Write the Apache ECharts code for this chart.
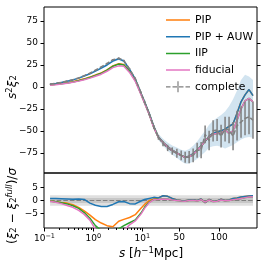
<!DOCTYPE html>
<html><head><meta charset="utf-8">
<script src="https://cdn.jsdelivr.net/npm/echarts@6/dist/echarts.min.js"></script>
<style>html,body{margin:0;padding:0;background:#fff}#c{width:266px;height:266px}</style>
</head><body><div id="c"></div>
<script>
// separation s [h^-1 Mpc]
const sVals = [0.13,0.17,0.22,0.29,0.38,0.5,0.65,0.85,1.1,1.45,1.9,2.5,3.3,4.2,5.5,7.2,9.4,
  12.5,17.5,22.5,27.5,32.5,37.5,42.5,47.5,52.5,57.5,62.5,67.5,72.5,77.5,82.5,87.5,92.5,97.5,102.5,107.5,112.5,117.5,122.5,127.5,132.5,137.5,142.5];
// top panel: s^2 xi_2
const pipTop = [2.3,3,3.8,4.8,6,7.5,9.2,11.2,13.5,16,19.5,24,26.5,25.5,18,8,-7.5,
  -17.5,-30.5,-45.5,-57,-63,-68,-72,-75,-78,-80,-79,-76,-72,-67,-62,-56,-53,-51,-50,-48,-45,-42,-30,-17,-9,-3,-10];
const auwTop = [3,4,5,6.5,8,10,12.5,15,18,21.5,25,29.5,32,29.5,20,9,-7,
  -17,-30,-45,-57,-63,-68,-72,-75,-78,-80,-79,-76,-72,-67,-62,-56,-53,-51,-50,-48,-45,-42,-30,-17,-9,-3,-10];
const iipTop = [2.2,2.9,3.6,4.5,5.7,7.1,8.8,10.7,13,15.5,19,23.5,26,25,17.5,7.5,-8,
  -18,-31,-46,-57.5,-63.5,-68.5,-72.5,-75.5,-78,-80.5,-79.5,-77,-72.5,-68,-61,-57,-54,-53,-53,-49,-53,-50,-38,-25,-16,-13,-17];
const fidTop = [2,2.6,3.3,4.2,5.3,6.6,8.2,10,12.2,14.5,17.8,22,24,23.5,16.5,6.5,-8.5,
  -18.5,-31.5,-46.5,-57.5,-63.5,-68.5,-72.5,-75.5,-78,-80.5,-79.5,-77,-72.5,-68,-61,-57,-54,-53,-53,-49,-53,-50,-38,-25,-16,-13,-17];
const compTop = [3.2,4.2,5.2,6.7,8.2,10.2,12.8,15.6,19,22.8,26.6,31,32.6,30,20.5,9.5,-6.5,
  -17,-30.5,-45.5,-57.5,-64.5,-69.5,-73,-75.5,-78,-80,-80,-78,-72,-72,-54,-61,-50,-49,-56,-48,-49,-56,-44,-40,-36,-34,-38];
const compErr = [0.3,0.3,0.3,0.4,0.4,0.5,0.5,0.6,0.6,0.7,0.8,0.9,1,1,1.1,1.2,1.3,
  1.5,1.8,2.2,2.6,3,3.6,4.2,5,5.6,6.3,7,7.8,8.5,9.3,10,11,12,12.5,13,14,15,16,17,18,19,20,21];
// PIP + AUW spread band (lower / upper edges)
const auwLo = [2.5,3.5,4.5,5.9,7.4,9.3,11.7,14.1,17,20.4,23.8,28.2,30.6,28,18.4,7.2,-9,
  -19.2,-32.6,-48,-60.5,-67,-72.6,-77.2,-81,-84.6,-87.4,-87.2,-85,-82,-78,-74,-69,-67.5,-67,-68,-70,-68,-66,-63,-60,-58,-57,-58];
const auwHi = [3.5,4.5,5.5,7.1,8.6,10.7,13.3,15.9,19,22.6,26.2,30.8,33.4,31,21.6,10.8,-5,
  -14.8,-27.4,-42,-53.5,-59,-63.4,-66.8,-69,-71.4,-72.6,-70.8,-67,-62,-56,-50,-43,-38.5,-35,-32,-28,-22,-14,-4,8,14,12,8];
// bottom panel: (xi_2 - xi_2^full)/sigma
const pipRes = [-0.2,-0.5,-0.8,-1.0,-1.6,-2.6,-4.0,-5.6,-7.3,-8.6,-9.6,-10.0,-7.9,-7.2,-6.5,-5.4,-3.0,
  -1.5,0.0,0.6,1.0,1.8,1.6,0.8,0.2,0.0,-0.1,0.2,0.3,0.0,0.6,-0.8,0.4,-0.3,-0.2,0.5,0.0,0.2,0.8,1.0,1.3,1.5,1.7,1.8];
const auwRes = [0.8,0.8,0.7,0.6,0.5,0.6,0.4,-1.0,-1.8,-2.3,-2.3,-1.5,-0.5,-0.4,-1.2,-1.3,-0.2,
  0.4,0.8,1.2,1.0,1.8,1.6,0.8,0.2,0.0,-0.1,0.2,0.3,0.0,0.6,-0.8,0.4,-0.3,-0.2,0.5,0.0,0.2,0.8,1.0,1.3,1.5,1.7,1.8];
const iipRes = [-0.2,-0.5,-0.9,-1.3,-2.0,-3.0,-4.6,-6.8,-9.6,-11.5,-12.5,-12.8,-10.8,-9.6,-8.5,-7.4,-4.8,
  -2.6,-0.6,0.4,0.4,0.6,0.5,0.2,0.0,-0.2,-0.3,0.0,0.1,-0.2,0.3,-0.6,0.2,-0.4,-0.3,0.2,-0.1,0.0,0.3,0.5,0.8,1.1,1.3,1.4];
const fidRes = [-0.3,-0.7,-1.2,-1.9,-2.6,-3.8,-5.3,-7.5,-11,-13,-14,-14.2,-13,-11.5,-9.3,-7.8,-5.2,
  -3.0,-0.8,0.3,0.4,0.6,0.5,0.2,0.0,-0.2,-0.3,0.0,0.1,-0.2,0.3,-0.6,0.2,-0.4,-0.3,0.2,-0.1,0.0,0.3,0.5,0.8,1.1,1.3,1.4];
const compRes = [0,0,0,0,0,0,0,0,0,0,0,0,0,0,0,0,0,0,0,0,0,0,0,0,0,0,0,0,0,0,0,0,0,0,0,0,0,0,0,0,0,0,0,0];
// ticks
const xTickS = [0.1, 1, 10, 50, 100];
const xTickLabels = ['10{sup|−1}', '10{sup|0}', '10{sup|1}', '50', '100'];
const xMinorS = [0.2,0.3,0.4,0.5,0.6,0.7,0.8,0.9,2,3,4,5,6,7,8,9];
const yTicksTop = [-75, -50, -25, 0, 25, 50, 75];
const yTicksBot = [-5, 0, 5];

// custom x scale: log below 10, linear above
function toU(s) {
  if (s <= 10) return Math.log10(s);
  if (s <= 50) return 1 + (s - 10) * (37 / 49) / 40;
  return 1 + 37 / 49 + (s - 50) * 0.8 / 49;
}
const X_MIN = -1.01, X_MAX = 3.347;
const C = {pip:'#ff7f0e', auw:'#1f77b4', iip:'#2ca02c', fid:'#e377c2', comp:'#7f7f7f'};
const FONT = 'DejaVu Sans';
const pair = arr => sVals.map((s, i) => [toU(s), arr[i]]);
const minus = v => String(v).replace('-', '−');

const chart = echarts.init(document.getElementById('c'), null, {renderer:'canvas'});
const axisCommon = {axisLine:{show:false, onZero:false}, splitLine:{show:false}};
const tickStyle = {lineStyle:{color:'#000', width:1}};

function lineSeries(name, arr, color, xi, yi, extra) {
  return Object.assign({
    type:'line', name, data: pair(arr), xAxisIndex: xi, yAxisIndex: yi,
    symbol:'none', showSymbol:false, lineStyle:{color, width:1.5}, itemStyle:{color},
    z: 3, silent: true
  }, extra || {});
}

const bandSeries = {
  type:'custom', name:'band', xAxisIndex:0, yAxisIndex:0, z:1, silent:true,
  data: sVals.map((s, i) => [toU(s), auwLo[i], auwHi[i]]),
  encode:{x:0, y:[1,2]},
  renderItem: (params, api) => {
    if (params.dataIndex !== 0) return null;
    const up = [], lo = [];
    for (let i = 0; i < sVals.length; i++) {
      const u = toU(sVals[i]);
      up.push(api.coord([u, auwHi[i]]));
      lo.push(api.coord([u, auwLo[i]]));
    }
    return {type:'polygon', shape:{points: up.concat(lo.reverse())},
      style:{fill:'rgba(31,119,180,0.2)', stroke:'none'}};
  }
};
const errSeries = {
  type:'custom', name:'complete', xAxisIndex:0, yAxisIndex:0, z:4, silent:true,
  data: sVals.map((s, i) => [toU(s), compTop[i], compErr[i]]),
  encode:{x:0, y:1},
  itemStyle:{color:C.comp},
  renderItem: (params, api) => {
    const u = api.value(0), y = api.value(1), e = api.value(2);
    const a = api.coord([u, y - e]), b = api.coord([u, y + e]);
    return {type:'line', shape:{x1:a[0], y1:a[1], x2:b[0], y2:b[1]},
      style:{stroke:C.comp, lineWidth:1.5}};
  }
};

const LINE_ICON = 'path://M0,5.25h24v1.5h-24z M0,0h0.01v0.01h-0.01z M23.99,11.99h0.01v0.01h-0.01z';
const COMP_ICON = 'path://M0,5.4h4.5v1.2h-4.5z M6.5,5.4h4.5v1.2h-4.5z M13,5.4h4.5v1.2h-4.5z M19.5,5.4h4.5v1.2h-4.5z M11.4,0.5h1.2v11h-1.2z M0,0h0.01v0.01h-0.01z M23.99,11.99h0.01v0.01h-0.01z';

const option = {
  animation:false,
  backgroundColor:'#fff',
  grid:[
    {left:44, right:9, top:7, height:166, show:true, borderColor:'#000', borderWidth:1, backgroundColor:'transparent'},
    {left:44, right:9, top:173, height:55, show:true, borderColor:'#000', borderWidth:1, backgroundColor:'transparent'}
  ],
  xAxis:[
    Object.assign({type:'value', gridIndex:0, min:X_MIN, max:X_MAX, axisTick:{show:false}, axisLabel:{show:false}}, axisCommon),
    Object.assign({type:'value', gridIndex:1, min:X_MIN, max:X_MAX, position:'bottom',
      axisTick:Object.assign({show:true, length:3.5, customValues: xTickS.map(toU)}, tickStyle),
      axisLabel:{show:true, customValues: xTickS.map(toU), margin:5, color:'#000', fontFamily:FONT, fontSize:9,
        formatter: v => { const i = xTickS.findIndex(s => Math.abs(toU(s) - v) < 1e-6); return i >= 0 ? xTickLabels[i] : ''; },
        rich:{sup:{fontSize:6.5, fontFamily:FONT, color:'#000', padding:[0,0,5,0]}}}}, axisCommon),
    Object.assign({type:'value', gridIndex:1, min:X_MIN, max:X_MAX, position:'bottom',
      axisTick:Object.assign({show:true, length:2, customValues: xMinorS.map(toU)}, tickStyle),
      axisLabel:{show:false}}, axisCommon)
  ],
  yAxis:[
    Object.assign({type:'value', gridIndex:0, min:-98, max:91, position:'left',
      axisTick:Object.assign({show:true, length:3.5, customValues:yTicksTop}, tickStyle),
      axisLabel:{show:true, customValues:yTicksTop, margin:6, color:'#000', fontFamily:FONT, fontSize:9, formatter:minus}}, axisCommon),
    Object.assign({type:'value', gridIndex:0, min:-98, max:91, position:'right',
      axisTick:Object.assign({show:true, length:3.5, customValues:yTicksTop}, tickStyle),
      axisLabel:{show:false}}, axisCommon),
    Object.assign({type:'value', gridIndex:1, min:-10.5, max:10.5, position:'left',
      axisTick:Object.assign({show:true, length:3.5, customValues:yTicksBot}, tickStyle),
      axisLabel:{show:true, customValues:yTicksBot, margin:6, color:'#000', fontFamily:FONT, fontSize:9, formatter:minus}}, axisCommon),
    Object.assign({type:'value', gridIndex:1, min:-10.5, max:10.5, position:'right',
      axisTick:Object.assign({show:true, length:3.5, customValues:yTicksBot}, tickStyle),
      axisLabel:{show:false}}, axisCommon)
  ],
  legend:{
    left:161, top:9, orient:'vertical', itemWidth:24, itemHeight:12, itemGap:4.7,
    textStyle:{fontSize:10.8, fontFamily:FONT, color:'#000'},
    selectedMode:false,
    data:[
      {name:'PIP', icon:LINE_ICON},
      {name:'PIP + AUW', icon:LINE_ICON},
      {name:'IIP', icon:LINE_ICON},
      {name:'fiducial', icon:LINE_ICON},
      {name:'complete', icon:COMP_ICON}]
  },
  series:[
    bandSeries,
    lineSeries('PIP', pipTop, C.pip, 0, 0),
    lineSeries('PIP + AUW', auwTop, C.auw, 0, 0),
    lineSeries('IIP', iipTop, C.iip, 0, 0),
    lineSeries('fiducial', fidTop, C.fid, 0, 0),
    errSeries,
    lineSeries('complete', compTop, C.comp, 0, 0, {lineStyle:{color:C.comp, width:1.5, type:[4.6,2]}, z:5}),
    lineSeries('complete', compRes, C.comp, 1, 2, {lineStyle:{color:C.comp, width:1.2, type:[4.6,2]}, z:2,
      markArea:{silent:true, data:[
        [{xAxis:toU(sVals[0]), yAxis:-2, itemStyle:{color:'rgba(128,128,128,0.25)'}}, {xAxis:toU(sVals[sVals.length-1]), yAxis:2}],
        [{xAxis:toU(sVals[0]), yAxis:-1, itemStyle:{color:'rgba(128,128,128,0.25)'}}, {xAxis:toU(sVals[sVals.length-1]), yAxis:1}]
      ]}}),
    lineSeries('PIP', pipRes, C.pip, 1, 2),
    lineSeries('PIP + AUW', auwRes, C.auw, 1, 2),
    lineSeries('IIP', iipRes, C.iip, 1, 2),
    lineSeries('fiducial', fidRes, C.fid, 1, 2)
  ],
  graphic:[
    {type:'text', x:151, y:254, style:{text:'{i|s} [{i|h}{sup|−1}Mpc]', fontFamily:FONT, fontSize:12, fill:'#000', align:'center', verticalAlign:'middle',
      rich:{i:{fontStyle:'italic', fontFamily:FONT, fontSize:12}, sup:{fontSize:8.5, fontFamily:FONT, padding:[0,0,6,0]}}}},
    {type:'text', x:12.5, y:87, rotation:Math.PI/2, style:{text:'{i|s}{sup|2}{i|ξ}{sub|2}', fontFamily:FONT, fontSize:12, fill:'#000', align:'center', verticalAlign:'middle',
      rich:{i:{fontStyle:'italic', fontFamily:FONT, fontSize:12}, sup:{fontSize:8.5, fontFamily:FONT, padding:[0,0,6,0]}, sub:{fontSize:8.5, fontFamily:FONT, padding:[0,0,-3,0]}}}},
    {type:'text', x:12.5, y:206, rotation:Math.PI/2, style:{text:'({i|ξ}{sub|2} − {i|ξ}{sub|2}{supi|full})/{i|σ}', fontFamily:FONT, fontSize:12, fill:'#000', align:'center', verticalAlign:'middle',
      rich:{i:{fontStyle:'italic', fontFamily:FONT, fontSize:12}, sub:{fontSize:8.5, fontFamily:FONT, padding:[0,0,-3,0]}, supi:{fontSize:8.5, fontStyle:'italic', fontFamily:FONT, padding:[0,0,6,0]}}}}
  ]
};
chart.setOption(option);
</script></body></html>
